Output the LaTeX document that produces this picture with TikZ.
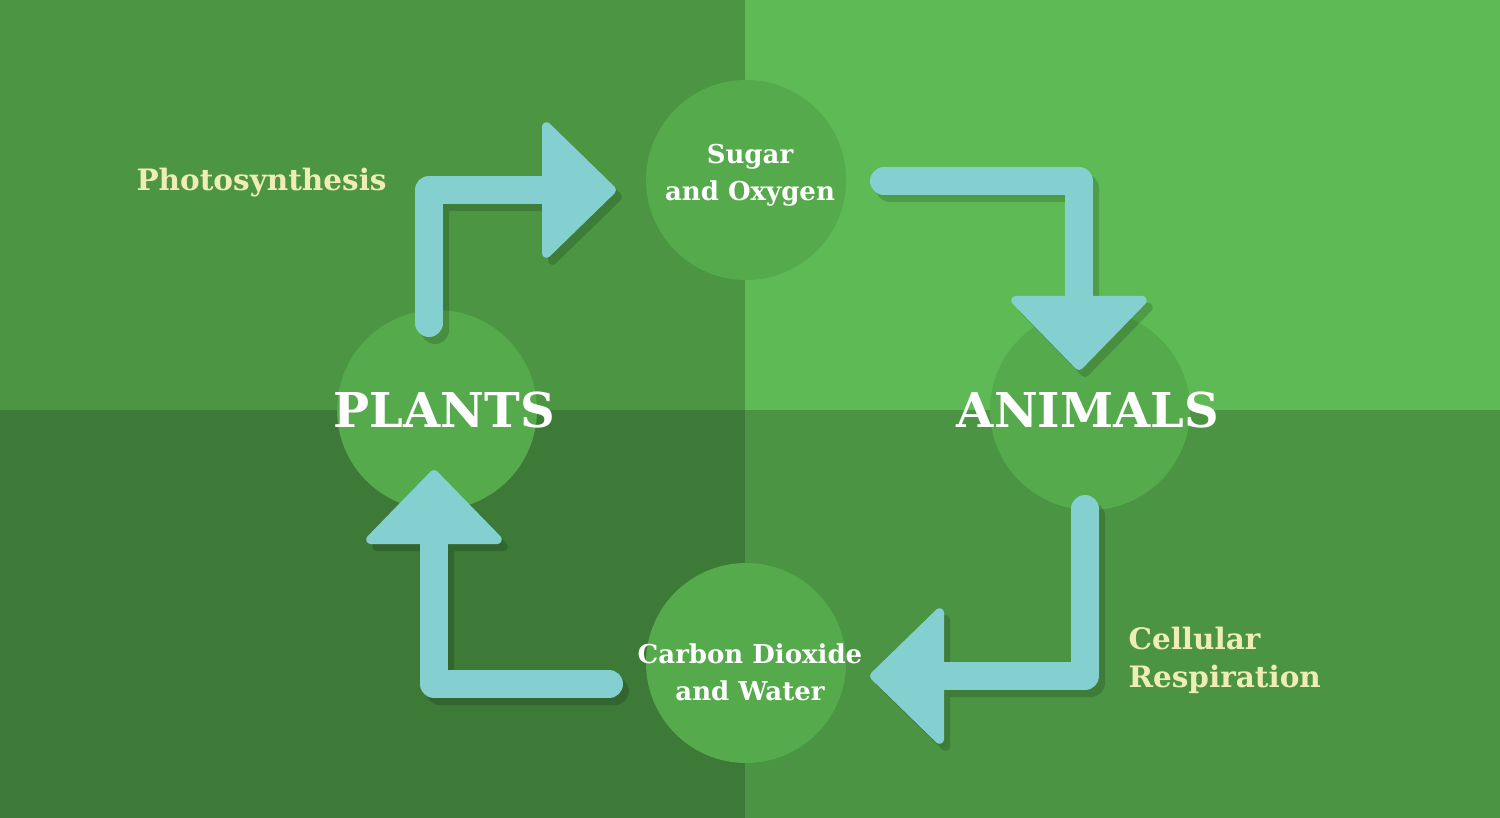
\documentclass[tikz,border=0pt]{standalone}
\usepackage{fontspec}
\setmainfont{DejaVu Serif}
\usepackage{tikz}
\usetikzlibrary{arrows.meta, calc}

\definecolor{bgtl}{HTML}{4B9543}
\definecolor{bgtr}{HTML}{5DBA54}
\definecolor{bgbl}{HTML}{3D7A37}
\definecolor{bgbr}{HTML}{4A9443}
\definecolor{blob}{HTML}{55AA4C}
\definecolor{cyc}{HTML}{84D0D1}
\definecolor{note}{HTML}{EFEDB5}

\begin{document}
\begin{tikzpicture}[x=1pt, y=-1pt,
    blobnode/.style={circle, fill=blob, minimum size=200pt, inner sep=0pt},
    big/.style={text=white, font=\bfseries\fontsize{48}{54}\selectfont},
    small/.style={text=white, align=center, font=\bfseries\fontsize{26}{37}\selectfont},
    side/.style={text=note, align=left, font=\bfseries\fontsize{29.5}{38}\selectfont},
    cyclearrow/.style={line width=28pt, line cap=round, line join=round,
        -{Triangle[length=76pt, width=146pt, line width=9pt, round]}},
    shade/.style={transparency group, opacity=0.16},
    plain/.style={}]

    % background
    \useasboundingbox (0,0) rectangle (1500,818);
    \fill[bgtl] (0,0) rectangle (745,410);
    \fill[bgtr] (745,0) rectangle (1500,410);
    \fill[bgbl] (0,410) rectangle (745,818);
    \fill[bgbr] (745,410) rectangle (1500,818);

    \node[blobnode] (sugar) at (746,180) {};
    \node[blobnode] (plants) at (437,410) {};
    \node[blobnode] (animals) at (1090,410) {};
    \node[blobnode] (carbon) at (746,663) {};

    % arrows, shadow first
    \foreach \sty/\col/\dx/\dy in {shade/black/6/7, plain/cyc/0/0} {
        \begin{scope}[\sty]
        \draw[cyclearrow, \col] ($(plants.center)+(-8+\dx,-87+\dy)$) |- ($(sugar.center)+(-130+\dx,10+\dy)$);
        \draw[cyclearrow, \col] ($(sugar.center)+(138+\dx,1+\dy)$) -| ($(animals.center)+(-11+\dx,-40+\dy)$);
        \draw[cyclearrow, \col] ($(animals.center)+(-5+\dx,99+\dy)$) |- ($(carbon.center)+(124+\dx,13+\dy)$);
        \draw[cyclearrow, \col] ($(carbon.center)+(-137+\dx,21+\dy)$) -| ($(plants.center)+(-3+\dx,60+\dy)$);
        \end{scope}
    }

    \node[big] (plantstext) at (444,410) {PLANTS};
    \node[big] (animalstext) at (1088,410) {ANIMALS};
    \node[small] (sugartext) at (750,175) {Sugar\\and Oxygen};
    \node[small] (carbontext) at (750,672) {Carbon Dioxide\\and Water};

    \node[side, anchor=west] (photo) at (133,183) {Photosynthesis};
    \node[side, anchor=west] (resp) at (1125,660) {Cellular\\Respiration};
\end{tikzpicture}
\end{document}
